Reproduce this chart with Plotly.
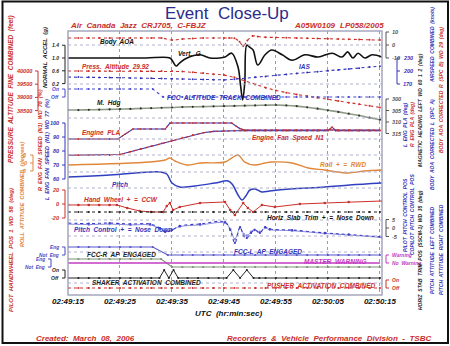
import plotly.graph_objects as go

# ---------------------------------------------------------------- data
# time in seconds after 02:49:15 UTC
tick_secs = [0, 10, 20, 30, 40, 50, 60]
tick_text = ["02:49:15", "02:49:25", "02:49:35", "02:49:45", "02:49:55", "02:50:05", "02:50:15"]

t2 = [0, 2, 4, 6, 8, 10, 12, 14, 16, 18, 20, 22, 24, 26, 28, 30,
      32, 34, 36, 38, 40, 42, 44, 46, 48, 50, 52, 54, 56, 58, 60]

aoa_t = [0, 2, 4, 6, 8, 10, 12, 14, 16, 18, 20, 22, 24, 26, 28, 30, 31, 32, 33, 33.7,
         34.5, 35.5, 36.5, 38, 40, 42, 44, 46, 48, 50, 52, 54, 56, 58, 60]
aoa_deg = [5.4, 5.4, 5.4, 5.4, 5.4, 5.4, 5.4, 5.4, 5.4, 5.4, 3.8, 4.6, 5.0, 5.4, 5.4, 5.4, 5.4,
           5.2, 2.5, -0.8, 3.5, 6.9, 6.5, 6.0, 5.8, 5.6, 5.4, 5.2, 5.0, 4.8, 4.6, 4.4, 4.2, 4.0, 3.8]

vg_t = [0, 5, 10, 15, 19.6, 20.2, 20.8, 21.5, 22.9, 25.4, 27.3, 29.2, 30.2, 31.5, 32.7, 33.2,
        33.6, 34.0, 34.4, 35.0, 35.6, 36.5, 37.9, 39.2, 41.2, 43.1, 45.6, 48.1, 50.8, 52.7,
        53.8, 54.8, 55.8, 57.1, 58.5, 60.4]
vg_g = [1.0, 1.0, 1.0, 1.0, 1.0, 0.88, 0.75, 0.85, 1.0, 1.10, 1.0, 1.0, 1.03, 1.15, 0.72, 0.13,
        -0.31, 0.23, 1.40, 1.33, 1.25, 0.78, 1.10, 1.25, 1.10, 0.93, 1.10, 1.03, 1.15, 1.03,
        1.19, 1.0, 1.15, 1.0, 1.10, 1.03]

palt_ft = [40000, 40000, 40000, 40000, 40000, 40000, 40000, 40000, 40000, 40000, 40000,
           39980, 39950, 39920, 39880, 39850, 39760, 39620, 39490, 39370, 39260, 39180,
           39110, 39050, 38990, 38930, 38860, 38800, 38740, 38680, 38620]

ias_kt = [186, 186, 185.5, 185, 185, 184.5, 184, 183.5, 183, 182.5, 182, 181.5, 181, 180.5,
          180, 179.5, 181, 183.5, 185.5, 187.5, 190, 192, 194.5, 196.5, 198.5, 200.5, 202.5,
          204.5, 206.5, 209, 211]

alt_trk_t = [0, 2, 4, 6, 8, 10, 12, 14, 16.3, 18.3, 20, 22, 24, 26, 28, 30, 32, 34, 36, 38,
             40, 42, 44, 46, 48, 50, 52, 54, 56, 58, 60]
alt_trk = [1, 1, 1, 1, 1, 1, 1, 1, 1, 0, 0, 0, 0, 0, 0, 0, 0, 0, 0, 0,
           0, 0, 0, 0, 0, 0, 0, 0, 0, 0, 0]

hdg_deg = [304.8, 304.8, 304.7, 304.6, 304.5, 304.4, 304.3, 304.1, 304.0, 303.8, 303.7, 303.5,
           303.4, 303.3, 303.2, 303.1, 303.0, 302.9, 302.8, 302.7, 302.6, 302.8, 303.1, 303.6,
           304.2, 304.9, 305.6, 306.4, 307.2, 308.1, 309.0]

n1_t = [0, 2, 4, 6, 8, 10, 12, 14, 16, 18, 20, 22, 24, 26, 28, 30, 32, 34, 36, 38, 40, 42,
        44, 46, 48, 50, 50.8, 51.5, 52, 54, 56, 58, 60]
n1_pct = [77, 77, 77, 77, 77, 77.5, 79.5, 81.5, 83.5, 85.5, 87.5, 89.5, 91.5, 93, 94, 94.5,
          94.5, 94.5, 94.5, 94.5, 94.5, 94.5, 94.5, 94.5, 94.5, 94.5, 97, 94.5, 94.5, 94.5,
          94.5, 94.5, 94.5]

pla_t = [0, 2, 4, 6, 8, 9.6, 11, 12.5, 14, 16, 18.7, 19.6, 22, 24, 26, 28, 30, 31.5, 33,
         34, 36, 38, 40, 42, 44, 46, 48, 50, 52, 54, 56, 58, 60]
pla_deg = [40, 40, 40, 40, 40, 40, 43.5, 47.1, 47.1, 47.1, 47.1, 51.4, 51.4, 51.4, 51.4, 51.4,
           51.4, 51.4, 47.5, 46.4, 46.4, 46.4, 46.4, 46.4, 46.4, 46.4, 46.4, 46.4, 46.4, 46.4,
           46.4, 46.4, 46.4]

roll_t = [0, 15.8, 18.7, 19.6, 20.6, 22.9, 25.4, 30.2, 31.5, 32.7, 34, 35.9, 37.9, 39.2, 43.1,
          46.2, 49.4, 53.8, 57.1, 60.4]
roll_deg = [-1.25, 0.6, 1.9, 3.1, 1.25, -1.25, 0, 0.6, 3.1, 5.0, 0.6, -1.25, 0, 0.6, 0, -3.1,
            -4.4, -6.25, -5.0, -4.4]

pitch_t = [0, 8.1, 17.7, 19.0, 20.0, 21.5, 24.4, 28.3, 30.8, 31.7, 32.7, 33.5, 34.2, 35.0, 36.0,
           37.3, 38.8, 42.7, 49.4, 54.2, 60.4]
pitch_deg = [5.2, 6.0, 7.2, 6.4, 2.8, 1.2, 1.6, 2.8, 3.6, 2.0, -2.0, -4.0, -2.4, 0.0, 0.4,
             -0.8, -0.4, 0.4, 1.2, 2.0, 2.8]

hw_t = [0, 2, 4, 6, 8, 9.4, 11.4, 13.8, 16, 18.3, 19.0, 19.6, 20.2, 21.5, 25.4, 30.2, 31.2,
        32.1, 33.7, 34.6, 35.6, 37.3, 39.8, 44.6, 49.4, 54, 60.4]
hw_deg = [-1.4, -1.4, -1.4, -1.4, -1.4, -1.4, -5.7, -10, -11.4, -11.4, -2.9, 1.4, -8.6, -4.3,
          1.4, 2.9, -8.6, -15.7, 1.4, -5.7, -11.4, -1.4, -4.3, 0, 1.4, 2.9, 4.3]

stab_deg = [-3.0] * 31

pc_t = [0, 4, 8, 12, 15.8, 17.7, 18.7, 20.0, 21.5, 25.4, 30.2, 31.2, 32.1, 33.1, 33.8, 34.4,
        35.2, 35.9, 36.9, 37.9, 38.8, 43.1, 49.4, 54, 60.4]
pc_pilot = [2.9, 2.6, 2.9, 2.35, 2.35, 0, -2.35, -1.2, 1.2, 2.35, 3.5, -1.2, -8.8, 0.6, -4.7,
            -5.9, -2.9, -1.2, -2.9, 0.6, -0.6, -1.2, -2.9, -3.8, -5.3]
pc_copilot = [2.3, 2.0, 2.3, 1.8, 1.8, -0.4, -2.0, -1.0, 0.8, 1.8, 2.9, -0.6, -6.5, 0.0, -3.5,
              -4.5, -2.3, -1.0, -2.3, 0.0, -1.0, -1.6, -3.2, -4.1, -5.6]

fccr_t = [0, 2, 4, 6, 8, 10, 12, 14, 16.3, 19.2, 22, 24, 26, 28, 30, 32, 34, 36, 38, 40, 42,
          44, 46, 48, 50, 52, 54, 56, 58, 60]
fccr = [1, 1, 1, 1, 1, 1, 1, 1, 1, 0, 0, 0, 0, 0, 0, 0, 0, 0, 0, 0, 0, 0, 0, 0, 0, 0, 0, 0, 0, 0]
fccl_t = [0, 2, 4, 6, 8, 10, 12, 14, 16, 17.9, 20, 22, 24, 26, 28, 30, 32, 34, 36, 38, 40, 42,
          44, 46, 48, 50, 52, 54, 56, 58, 60]
fccl = [1, 1, 1, 1, 1, 1, 1, 1, 1, 1, 0, 0, 0, 0, 0, 0, 0, 0, 0, 0, 0, 0, 0, 0, 0, 0, 0, 0, 0, 0, 0]

mwarn = [0] * 31

shk_t = [0, 2, 4, 6, 8, 10, 12, 14, 16, 17.6, 18.5, 19.4, 20.3, 21.2, 23, 25, 27, 29, 30.5,
         31.8, 33.1, 34.4, 35.7, 36.8, 38, 40, 42, 44, 46, 48, 50, 52, 54, 56, 58, 60]
shk = [0, 0, 0, 0, 0, 0, 0, 0, 0, 0, 1, 0, 1, 0, 0, 0, 0, 0, 0, 1, 0, 1, 0, 0, 0, 0, 0, 0, 0,
       0, 0, 0, 0, 0, 0, 0]

pusher = [0] * 31

# ---------------------------------------------------------------- layout helpers
W, H = 450, 346
PL, PR, PT, PB = 68, 382, 31, 295          # plot area (px)


def px(xp):
    return (xp - PL) / (PR - PL)


def py(yp):
    return (PB - yp) / (PB - PT)


def band_range(v_ref, y_ref, px_per_unit):
    """Axis range that puts v_ref at pixel row y_ref with the given scale."""
    lo = v_ref - (PB - y_ref) / px_per_unit
    hi = v_ref + (y_ref - PT) / px_per_unit
    return [lo, hi]


RED = "#c9302c"
BLUE = "#3434b8"
DKBLUE = "#2b2b8c"
ORANGE = "#e0873a"
MAG = "#c23bc2"
GREEN = "#8d9c86"
FONT = "Liberation Sans"

bands = {
    "vg": ("y", band_range(1.0, 58, 32)),
    "aoa": ("y2", band_range(0, 45, 1.3)),
    "palt": ("y3", band_range(40000, 71, 0.0264)),
    "ias": ("y4", band_range(200, 71, 13 / 30)),
    "alt": ("y5", band_range(0, 97, 8)),
    "hdg": ("y6", band_range(300, 99, -2.3)),
    "n1": ("y7", band_range(100, 123, 1.4)),
    "pla": ("y8", band_range(40, 139, 1.4)),
    "roll": ("y9", band_range(0, 163, 1.6)),
    "pitch": ("y10", band_range(0, 190, 2.5)),
    "hw": ("y11", band_range(0, 204, 0.7)),
    "stab": ("y12", band_range(0, 200, 4)),
    "pc": ("y13", band_range(0, 228, 1.7)),
    "fccr": ("y14", band_range(0, 255, 8)),
    "fccl": ("y15", band_range(0, 267, 8)),
    "mw": ("y16", band_range(0, 263, 8)),
    "shk": ("y17", band_range(0, 278, 8)),
    "push": ("y18", band_range(0, 288, 8)),
}

fig = go.Figure()


def add(key, x, y, color, width=1.2, dash="solid", msize=0, mcolor=None, shape="linear"):
    ax = bands[key][0]
    mode = "lines+markers" if msize else "lines"
    fig.add_trace(go.Scatter(
        x=x, y=y, mode=mode, yaxis=ax, hoverinfo="skip", showlegend=False,
        line=dict(color=color, width=width, dash=dash, shape=shape),
        marker=dict(size=msize, color=mcolor or color)))


# series
add("aoa", aoa_t, aoa_deg, RED, 1.1, "dot", 2, shape="spline")
add("palt", t2, palt_ft, RED, 1.1, "dot", 2)
add("ias", t2, ias_kt, BLUE, 1.1, "dot", 2)
add("alt", alt_trk_t, alt_trk, "#4848d0", 1.1, "dot", 2)
add("hdg", t2, hdg_deg, GREEN, 1.6, "solid", 2.2, "#333333", shape="spline")
add("pla", pla_t, pla_deg, BLUE, 1.1)
add("pla", pla_t, pla_deg, RED, 1.1, "dot", 1.8)
add("n1", n1_t, n1_pct, BLUE, 1.1)
add("n1", n1_t, n1_pct, RED, 1.1, "dot", 1.8)
add("roll", roll_t, roll_deg, ORANGE, 1.4, shape="spline")
add("pitch", pitch_t, pitch_deg, "#3040c0", 1.5, shape="spline")
add("hw", hw_t, hw_deg, RED, 1.0, "solid", 2.6)
add("stab", t2, stab_deg, "#222222", 1.0, "dot", 2.2)
add("pc", pc_t, pc_copilot, "#8f8fe0", 1.0, "solid", 2.6, shape="spline")
add("pc", pc_t, pc_pilot, "#3c3cc4", 1.1, "dot", 2.2, shape="spline")
add("fccr", fccr_t, fccr, "#5555cc", 1.1, "solid", 2.2)
add("fccl", fccl_t, fccl, "#7d8f76", 1.1, "solid", 2.2)
add("mw", t2, mwarn, MAG, 1.5)
add("shk", shk_t, shk, "#222222", 1.0, "solid", 2.2)
add("push", t2, pusher, RED, 1.1, "dot", 2.2)
add("vg", vg_t, vg_g, "#111111", 1.6, shape="spline")

# axes
layout = dict(
    width=W, height=H, margin=dict(l=PL, r=W - PR, t=PT, b=H - PB),
    paper_bgcolor="white", plot_bgcolor="white",
    xaxis=dict(range=[0, 60.4], tickvals=tick_secs, ticktext=tick_text, showgrid=True,
               gridcolor="#9a9ac0", griddash="dot", gridwidth=1, zeroline=False,
               showline=False, ticks="", ticklen=0,
               tickfont=dict(family=FONT, size=8, color="#111111", weight="bold", style="italic")),
    yaxis=dict(range=bands["vg"][1], visible=False, fixedrange=True),
)
for key, (ax, rng) in bands.items():
    if ax == "y":
        continue
    layout["yaxis" + ax[1:]] = dict(range=rng, visible=False, overlaying="y")
fig.update_layout(**layout)

shapes = []
# horizontal dotted grid
for gy in [45, 84, 118, 139, 155, 172, 188, 220, 236, 252, 283]:
    shapes.append(dict(type="line", xref="paper", yref="paper", x0=0, x1=1, y0=py(gy), y1=py(gy),
                       line=dict(color="#b0b0cc", width=1, dash="dot")))
# plot frame and outer frame
shapes.append(dict(type="rect", xref="paper", yref="paper", x0=0, x1=1, y0=0, y1=1,
                   line=dict(color="#a6a6c0", width=1.5)))
shapes.append(dict(type="rect", xref="paper", yref="paper", x0=px(2.5), x1=px(448), y0=py(343),
                   y1=py(1.5), line=dict(color="#111111", width=2)))

ann = []


def note(xp, yp, text, color, size=6.5, angle=0, xanchor="left", bold=True, italic=True):
    ann.append(dict(xref="paper", yref="paper", x=px(xp), y=py(yp), text=text, showarrow=False,
                    textangle=angle, xanchor=xanchor, yanchor="middle",
                    font=dict(family=FONT, size=size, color=color,
                              weight="bold" if bold else "normal",
                              style="italic" if italic else "normal")))


def scale(key, xp, values, labels, color, side="left", size=5.5):
    """Short axis with ticks and labels placed through the band's own y scale."""
    ax = bands[key][0]
    yref = ax
    shapes.append(dict(type="line", xref="paper", yref=yref, x0=px(xp), x1=px(xp),
                       y0=min(values), y1=max(values), line=dict(color=color, width=1)))
    d = -3 if side == "left" else 3
    for v, lab in zip(values, labels):
        shapes.append(dict(type="line", xref="paper", yref=yref, x0=px(xp), x1=px(xp + d),
                           y0=v, y1=v, line=dict(color=color, width=1)))
        ann.append(dict(xref="paper", yref=yref, x=px(xp + d * 1.3), y=v, text=lab,
                        showarrow=False, xanchor="right" if side == "left" else "left",
                        yanchor="middle",
                        font=dict(family=FONT, size=size, color=color, weight="bold",
                                  style="italic")))


# left scales
scale("palt", 38, [40000, 39500, 39000, 38500], ["40000", "39500", "39000", "38500"], RED)
scale("vg", 65, [1.4, 1.0, 0.6, 0.2], ["1.4", "1.0", "0.6", "0.2"], "#222222", size=5)
scale("alt", 65, [1, 0], ["On", "Off"], "#4848d0", size=5)
scale("n1", 65, [100, 90, 80, 70, 60], ["100", "90", "80", "70", "60"], BLUE)
scale("hw", 65, [20, 0, -20], ["20", "0", "-20"], RED)
scale("fccr", 65, [1, 0], ["Eng", "Not  Eng"], "#4848c0", size=4.8)
scale("fccl", 51, [1, 0], ["Eng", "Not  Eng"], "#4848c0", size=4.8)
scale("shk", 65, [1, 0], ["On", "Off"], "#222222", size=5)
scale("roll", 33, [5, 0, -5], ["5", "0", "-5"], ORANGE)
# right scales
scale("aoa", 386, [10, 0, -10], ["10", "0", "-10"], "#555555", side="right")
scale("ias", 397, [230, 200, 170], ["230", "200", "170"], BLUE, side="right")
scale("hdg", 386, [300, 305, 310, 315], ["300", "305", "310", "315"], "#555555", side="right")
scale("pc", 386, [5, 0, -5], ["5", "0", "-5"], "#555555", side="right")
scale("mw", 386, [1, 0], ["Warning", "No  Warning"], MAG, side="right", size=5)
scale("push", 386, [1, 0], ["On", "Off"], RED, side="right", size=5)

# titles
ann.append(dict(xref="paper", yref="paper", x=px(227), y=py(14), text="Event  Close-Up",
                showarrow=False, xanchor="center", yanchor="middle",
                font=dict(family=FONT, size=17, color=DKBLUE)))
note(68, 26, "Air  Canada  Jazz  CRJ705,  C-FBJZ", RED, 8)
note(292, 26, "A05W0109", RED, 8)
note(338, 26, "LP058/2005", RED, 8)
note(228, 313, "UTC  (hr:min:sec)", "#111111", 8, xanchor="center")
note(34, 338, "Created:  March  08,  2006", RED, 8)
note(225, 338, "Recorders  &  Vehicle  Performance  Division  -  TSBC", RED, 8)

# series labels
note(98, 42, "Body  AOA", "#111111")
note(176, 53, "Vert.  G", "#111111")
note(80, 66, "Press.  Altitude  29.92", RED)
note(297, 66, "IAS", BLUE)
note(165, 97, "FCC  ALTITUDE  TRACK  COMBINED", BLUE)
note(95, 103, "M.  Hdg", "#222222")
note(80, 133, "Engine  PLA", RED)
note(250, 138, "Engine  Fan  Speed  N1", RED)
note(318, 164, "Roll  +  =  RWD", ORANGE)
note(110, 184, "Pitch", BLUE)
note(82, 199, "Hand  Wheel  +  =  CCW", RED)
note(265, 218, "Horiz  Slab  Trim  +  =  Nose  Down", "#111111")
note(72, 229, "Pitch  Control  +  =  Nose  Down", BLUE)
note(85, 254, "FCC-R  AP  ENGAGED", "#222222")
note(232, 251, "FCC-L  AP  ENGAGED", BLUE)
note(302, 261, "MASTER  WARNING", MAG)
note(90, 282, "SHAKER  ACTIVATION  COMBINED", "#222222")
note(265, 285, "PUSHER  ACTIVATION  COMBINED", RED)

# rotated axis titles, left
note(11, 89, "PRESSURE  ALTITUDE  FINE  COMBINED  (feet)", RED, 6.5, -90, "center")
note(45, 58, "NORMAL  ACCEL  (g)", "#222222", 6, -90, "center")
note(47, 150, "L  ENG  FAN  SPEED  (N1)  WD  77  (%)", BLUE, 5.5, -90, "center")
note(40, 140, "R  ENG  FAN  SPEED  (N1)  WD  78  (%)", RED, 5.5, -90, "center")
note(22, 195, "ROLL  ATTITUDE  COMBINED  (degrees)", ORANGE, 5.5, -90, "center")
note(11, 250, "PILOT  HANDWHEEL  POS  1  WD  58  (deg)", RED, 6, -90, "center")

# rotated axis titles, right
note(432, 45, "AIRSPEED  COMBINED  (knots)", BLUE, 5, -90, "center")
note(441, 90, "BODY  AOA  CORRECTED  R  (SPC  B)  WD  29  (deg)", RED, 5, -90, "center")
note(420, 110, "MAGNETIC  HEADING  LEFT  WD  60  1  2  (deg)", "#333333", 5, -90, "center")
note(405, 125, "L  ENG  PLA  (deg)", BLUE, 5, -90, "center")
note(412, 125, "R  ENG  PLA  (deg)", RED, 5, -90, "center")
note(432, 145, "BODY  AOA  CORRECTED  L  (SPC  A)", BLUE, 5, -90, "center")
note(405, 215, "PILOT  PITCH  CONTROL  POS", BLUE, 5, -90, "center")
note(412, 215, "COPILOT  PITCH  CONTROL  POS", BLUE, 5, -90, "center")
note(420, 250, "HORIZ  STAB  TRIM  POS  (SSCM-1)  WD  35  (deg)", "#222222", 5, -90, "center")
note(432, 250, "PITCH  ATTITUDE  LEFT  COMBINED", BLUE, 5, -90, "center")
note(441, 250, "PITCH  ATTITUDE  RIGHT  COMBINED", BLUE, 5, -90, "center")

fig.update_layout(shapes=shapes, annotations=ann)
fig.write_html("out.html")
